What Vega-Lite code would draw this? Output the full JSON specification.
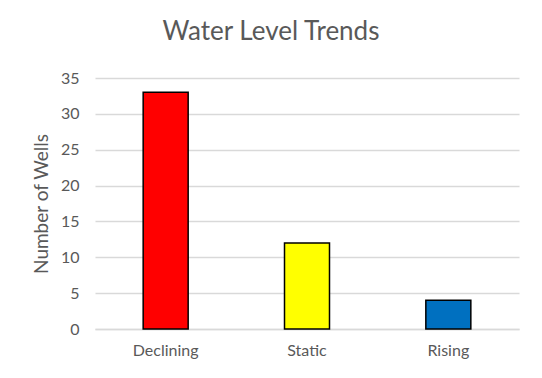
{
  "$schema": "https://vega.github.io/schema/vega-lite/v6.json",
  "width": 424,
  "height": 251,
  "autosize": "none",
  "padding": {"left": 95, "top": 78, "right": 23, "bottom": 49},
  "background": "white",
  "title": {
    "text": "Water Level Trends",
    "font": "Lato",
    "fontSize": 26,
    "fontWeight": "normal",
    "color": "#595959",
    "anchor": "middle",
    "dx": -36,
    "offset": 25
  },
  "data": {
    "values": [
      {"trend": "Declining", "wells": 33, "color": "#FF0000"},
      {"trend": "Static", "wells": 12, "color": "#FFFF00"},
      {"trend": "Rising", "wells": 4, "color": "#0070C0"}
    ]
  },
  "mark": {"type": "bar", "size": 45, "stroke": "black", "strokeWidth": 1.5},
  "encoding": {
    "x": {
      "field": "trend",
      "type": "nominal",
      "sort": null,
      "scale": {"paddingInner": 0, "paddingOuter": 0},
      "axis": {
        "title": null,
        "labelAngle": 0,
        "labelFont": "Lato",
        "labelFontSize": 16,
        "labelColor": "#595959",
        "labelPadding": 13,
        "ticks": false,
        "domainColor": "#D9D9D9",
        "domainWidth": 1.5,
        "grid": false
      }
    },
    "y": {
      "field": "wells",
      "type": "quantitative",
      "scale": {"domain": [0, 35]},
      "axis": {
        "title": "Number of Wells",
        "titleFont": "Lato",
        "titleFontSize": 19,
        "titleFontWeight": "normal",
        "titleColor": "#595959",
        "titlePadding": 9,
        "values": [0, 5, 10, 15, 20, 25, 30, 35],
        "labelFont": "Lato",
        "labelFontSize": 16,
        "labelColor": "#595959",
        "labelPadding": 16,
        "ticks": false,
        "domain": false,
        "gridColor": "#D9D9D9",
        "gridWidth": 1.5
      }
    },
    "fill": {"field": "color", "type": "nominal", "scale": null}
  },
  "config": {"view": {"stroke": null}}
}
